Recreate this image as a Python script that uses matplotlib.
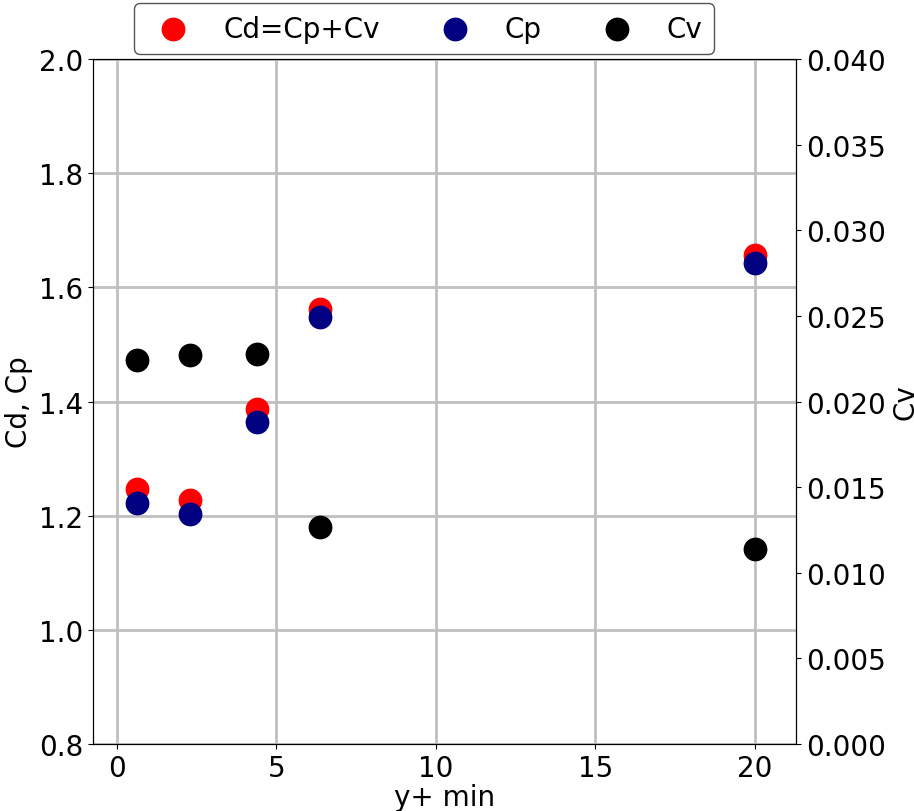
import matplotlib
matplotlib.use("Agg")
import matplotlib.pyplot as plt

# mesh resolution study: drag coefficient components vs first-cell y+
y_plus_min = [0.63, 2.29, 4.40, 6.37, 20.0]
cd = [1.247, 1.227, 1.387, 1.562, 1.657]
cp = [1.222, 1.203, 1.364, 1.548, 1.643]
cv = [0.0224, 0.0227, 0.0228, 0.0127, 0.0114]

plt.rcParams["font.size"] = 20

fig = plt.figure(figsize=(9.14, 8.12), dpi=100)
ax = fig.add_axes([93 / 914, 1 - 745 / 812, (796 - 93) / 914, (745 - 60) / 812])
ax2 = ax.twinx()

s = 260
h1 = ax.scatter(y_plus_min, cd, s=s, color="red", label="Cd=Cp+Cv", zorder=3)
h2 = ax.scatter(y_plus_min, cp, s=s, color="navy", label="Cp", zorder=3)
h3 = ax2.scatter(y_plus_min, cv, s=s, color="black", label="Cv", zorder=3)

ax.set_xlim(-0.75, 21.3)
ax.set_ylim(0.8, 2.0)
ax2.set_ylim(0.0, 0.04)
ax.set_xticks([0, 5, 10, 15, 20])
ax.set_yticks([0.8, 1.0, 1.2, 1.4, 1.6, 1.8, 2.0])
ax2.set_yticks([0.0, 0.005, 0.01, 0.015, 0.02, 0.025, 0.03, 0.035, 0.04])
ax2.set_yticklabels([f"{v:.3f}" for v in ax2.get_yticks()])

ax.grid(True, color="#c0c0c0", linewidth=2)
ax.set_axisbelow(True)

ax.set_xlabel("y+ min", labelpad=1)
ax.set_ylabel("Cd, Cp")
ax2.set_ylabel("Cv")

fig.legend(handles=[h1, h2, h3], loc="center", bbox_to_anchor=(424 / 914, 1 - 29.5 / 812),
           ncol=3, columnspacing=1.7, frameon=True, edgecolor="#555555", fancybox=True,
           framealpha=1, fontsize=20)

fig.savefig("out.png", dpi=100)
